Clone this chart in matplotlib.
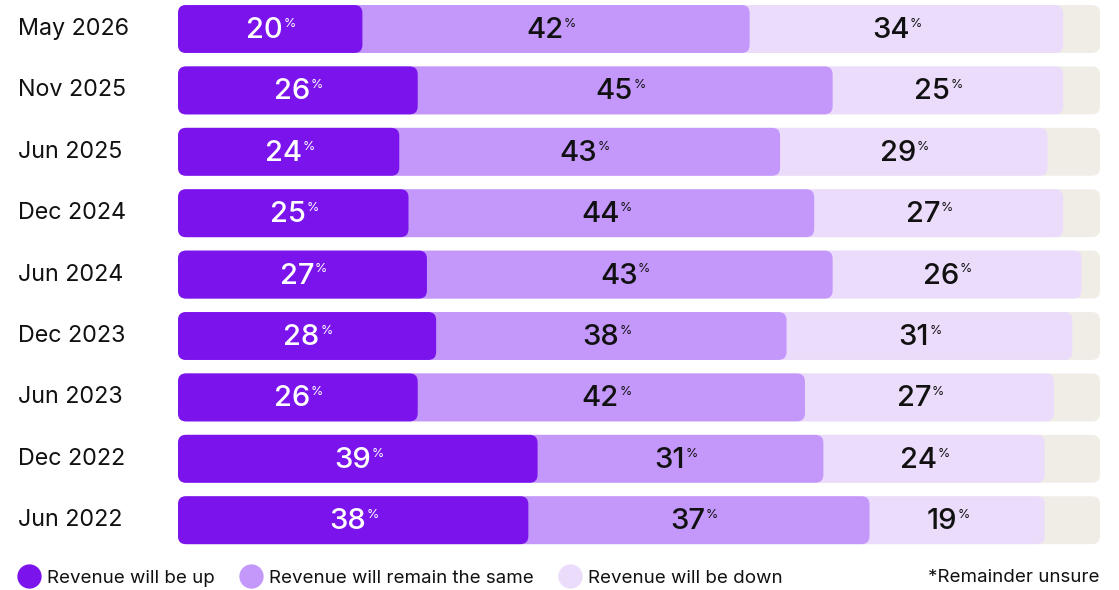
import matplotlib.pyplot as plt
import matplotlib.transforms as mtransforms
from matplotlib.patches import FancyBboxPatch
from matplotlib.lines import Line2D

plt.rcParams['font.family'] = ['Inter', 'DejaVu Sans']

# survey waves, top to bottom
periods = ['May 2026', 'Nov 2025', 'Jun 2025', 'Dec 2024', 'Jun 2024',
           'Dec 2023', 'Jun 2023', 'Dec 2022', 'Jun 2022']

# printed labels (%)
up_lbl = [20, 26, 24, 25, 27, 28, 26, 39, 38]
same_lbl = [42, 45, 43, 44, 43, 38, 42, 31, 37]
down_lbl = [34, 25, 29, 27, 26, 31, 27, 24, 19]

# bar widths as drawn (%)
up_w = [20, 26, 24, 25, 27, 28, 26, 39, 38]
same_w = [42, 45, 41.3, 44, 44, 38, 42, 31, 37]
down_w = [34, 25, 29, 27, 27, 31, 27, 24, 19]

series = ['Revenue will be up', 'Revenue will remain the same', 'Revenue will be down']
colors = ['#7b14ec', '#c497fb', '#ebdcfc']
rest_color = '#f0ede7'
txt_dark = '#111111'

W, H = 1119, 590
fig = plt.figure(figsize=(W / 100, H / 100), dpi=100)
ax = fig.add_axes([178 / W, 40 / H, 922 / W, 550 / H])
ax.set_xlim(0, 100)
ax.set_ylim((550 - 29) / 61.4, -29 / 61.4)
ax.axis('off')

bh = 0.78
rad = 0.87
asp = (1 / 61.4) / (1 / 9.22)


def rbar(x0, x1, y, c, z):
    p = FancyBboxPatch((x0, y - bh / 2), x1 - x0, bh,
                       boxstyle=f'round,pad=0,rounding_size={rad}',
                       mutation_aspect=asp, fc=c, ec='none', zorder=z)
    ax.add_patch(p)


def label(x, y, v, c):
    t = ax.text(x, y + 0.025, str(v), ha='center', va='center', fontsize=21,
                fontweight='medium', color=c, zorder=10)
    ax.annotate('%', xy=(1, 0.97), xycoords=t, xytext=(0.4, 0),
                textcoords='offset points', ha='left', va='top',
                fontsize=9, color=c, zorder=10)


lt = mtransforms.blended_transform_factory(fig.transFigure, ax.transData)

for i, p in enumerate(periods):
    c1 = up_w[i]
    c2 = c1 + same_w[i]
    c3 = c2 + down_w[i]
    rbar(0, 100, i, rest_color, 1)
    rbar(0, c3, i, colors[2], 2)
    rbar(0, c2, i, colors[1], 3)
    rbar(0, c1, i, colors[0], 4)
    label(c1 / 2 - 0.6, i, up_lbl[i], 'white')
    label((c1 + c2) / 2 - 1.2, i, same_lbl[i], txt_dark)
    label((c2 + c3) / 2 - 1.7, i, down_lbl[i], txt_dark)
    ax.text(18 / W, i, p, transform=lt, ha='left', va='center',
            fontsize=16.8, color=txt_dark)

handles = [Line2D([], [], marker='o', ls='none', ms=17.5, mfc=c, mec='none')
           for c in colors]
fig.legend(handles, series, loc='center left', bbox_to_anchor=(20 / W, 1 - 578 / H),
           ncol=3, frameon=False, fontsize=13.5, handlelength=1.0,
           handletextpad=0.46, columnspacing=1.42, borderpad=0, borderaxespad=0,
           labelcolor=txt_dark)
fig.text(1100 / W, 1 - 578 / H, '*Remainder unsure', ha='right', va='center',
         fontsize=13.5, color=txt_dark)

fig.savefig('out.png', dpi=100)
